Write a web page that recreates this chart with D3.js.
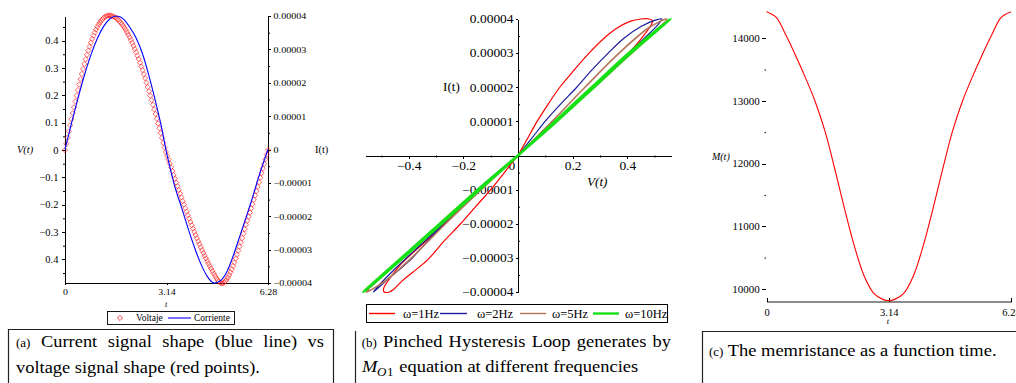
<!DOCTYPE html>
<html><head><meta charset="utf-8">
<script src="https://cdn.jsdelivr.net/npm/d3@7"></script>
<style>
body{margin:0;background:#fff}svg{display:block}
svg text{font-family:"Liberation Serif","Tinos","Times New Roman","Nimbus Roman","FreeSerif","DejaVu Serif",serif;}
</style>
</head><body>
<svg id="c" width="1016" height="383"></svg>
<script>
// ================= DATA =================
// ---- Panel (a): voltage markers (sampled every voltStep in t) and current line
const voltStep = 0.04;
const voltageV = [
0, 0.0227, 0.0454, 0.0680, 0.0904, 0.1126, 0.1347, 0.1564, 0.1777, 0.1987,
0.2193, 0.2394, 0.2590, 0.2781, 0.2965, 0.3144, 0.3315, 0.3479, 0.3636, 0.3785,
0.3925, 0.4059, 0.4183, 0.4298, 0.4404, 0.4501, 0.4588, 0.4665, 0.4732, 0.4789,
0.4836, 0.4873, 0.4899, 0.4915, 0.4920,
0.4917, 0.4907, 0.4891, 0.4869, 0.4840, 0.4805, 0.4764, 0.4716, 0.4662, 0.4603,
0.4537, 0.4465, 0.4388, 0.4304, 0.4216, 0.4122, 0.4022, 0.3917, 0.3808, 0.3693,
0.3574, 0.3450, 0.3322, 0.3190, 0.3054, 0.2915, 0.2771, 0.2625, 0.2460, 0.2304,
0.2146, 0.1985, 0.1821, 0.1655, 0.1486, 0.1316, 0.1144, 0.0971, 0.0796, 0.0620,
0.0443, 0.0266, 0.0089,
-0.0071, -0.0212, -0.0352, -0.0493, -0.0633, -0.0773, -0.0912, -0.1051, -0.1189, -0.1326,
-0.1462, -0.1597, -0.1731, -0.1864, -0.1996, -0.2126, -0.2255, -0.2382, -0.2508, -0.2632,
-0.2754, -0.2874, -0.2993, -0.3109, -0.3223, -0.3336, -0.3446, -0.3554, -0.3660, -0.3763,
-0.3864, -0.3963, -0.4059, -0.4153, -0.4245, -0.4333, -0.4425, -0.4515, -0.4600, -0.4680,
-0.4750, -0.4810, -0.4855,
-0.4880, -0.4875, -0.4850, -0.4800, -0.4740, -0.4660, -0.4570, -0.4470, -0.4360, -0.4240,
-0.4110, -0.3970, -0.3830, -0.3680, -0.3530, -0.3380, -0.3220, -0.3060, -0.2895, -0.2733,
-0.2588, -0.2440, -0.2289, -0.2137, -0.1981, -0.1824, -0.1665, -0.1503, -0.1340, -0.1176,
-0.1010, -0.0844, -0.0676, -0.0508, -0.0339, -0.0170, 0
];
const currentT = [0,0.2,0.4,0.6,0.8,1.0,1.2,1.4,1.6,1.8,2.0,2.2,2.4,2.6,2.8,3.0,3.12,
  3.2,3.4,3.6,3.8,4.0,4.2,4.4,4.62,4.8,5.0,5.2,5.4,5.6,5.8,6.0,6.28];
const currentI = [0,0.78e-5,1.532e-5,2.224e-5,2.828e-5,3.324e-5,3.696e-5,3.924e-5,4.0e-5,
  3.916e-5,3.672e-5,3.34e-5,2.86e-5,2.2e-5,1.44e-5,0.6e-5,0,
  -0.34e-5,-1.12e-5,-1.72e-5,-2.34e-5,-2.92e-5,-3.42e-5,-3.8e-5,-4.0e-5,
  -3.94e-5,-3.68e-5,-3.2e-5,-2.62e-5,-2.04e-5,-1.44e-5,-0.8e-5,0];
const aLeftTicks  = [0.4,0.3,0.2,0.1,0,-0.1,-0.2,-0.3,-0.4];
const aLeftLabels = ["0.4","0.3","0.2","0.1","0","\u22120.1","\u22120.2","\u22120.3","0.4"];
const aLeftMinor  = [0.45,0.35,0.25,0.15,0.05,-0.05,-0.15,-0.25,-0.35,-0.45];
const aRightTicks  = [4e-5,3e-5,2e-5,1e-5,0,-1e-5,-2e-5,-3e-5,-4e-5];
const aRightLabels = ["0.00004","0.00003","0.00002","0.00001","0","\u22120.00001","\u22120.00002","\u22120.00003","\u22120.00004"];
const aRightMinor  = [3.5e-5,2.5e-5,1.5e-5,0.5e-5,-0.5e-5,-1.5e-5,-2.5e-5,-3.5e-5];
const aXTicks  = [0,3.14,6.28];
const aXLabels = ["0","3.14","6.28"];
const aLegend  = ["Voltaje","Corriente"];

// ---- Panel (b): pinched hysteresis loops (V, I) in drawing order
const loopNames  = ["\u03c9=1Hz","\u03c9=2Hz","\u03c9=5Hz","\u03c9=10Hz"];
const loop1V = [0,0.035,0.07,0.11,0.153,0.205,0.26,0.31,0.36,0.41,0.45,0.48,0.493,0.488,0.47,0.43,0.35,0.25,0.15,0.07,0,
  -0.05,-0.10,-0.155,-0.21,-0.27,-0.33,-0.385,-0.425,-0.455,-0.47,-0.49,-0.492,-0.478,-0.43,-0.35,-0.25,-0.15,-0.07,0];
const loop1I = [0,0.5e-5,1.0e-5,1.5e-5,2.0e-5,2.5e-5,3.0e-5,3.4e-5,3.72e-5,3.93e-5,4.0e-5,4.0e-5,3.95e-5,3.84e-5,3.62e-5,3.22e-5,2.58e-5,1.84e-5,1.1e-5,0.52e-5,0,
  -0.5e-5,-1.0e-5,-1.5e-5,-2.0e-5,-2.5e-5,-3.05e-5,-3.42e-5,-3.68e-5,-3.92e-5,-4.0e-5,-4.0e-5,-3.9e-5,-3.7e-5,-3.2e-5,-2.6e-5,-1.86e-5,-1.1e-5,-0.52e-5,0];
const loop2V = [0,0.05,0.099,0.155,0.215,0.27,0.33,0.39,0.45,0.5,0.527,0.515,0.45,0.35,0.25,0.15,0.07,0,
  -0.075,-0.151,-0.21,-0.273,-0.33,-0.389,-0.44,-0.48,-0.529,-0.515,-0.45,-0.35,-0.25,-0.15,-0.07,0];
const loop2I = [0,0.5e-5,1.0e-5,1.5e-5,2.0e-5,2.5e-5,3.0e-5,3.45e-5,3.78e-5,3.96e-5,4.0e-5,3.86e-5,3.34e-5,2.58e-5,1.83e-5,1.09e-5,0.51e-5,0,
  -0.5e-5,-1.02e-5,-1.5e-5,-2.0e-5,-2.5e-5,-3.02e-5,-3.38e-5,-3.65e-5,-4.0e-5,-3.86e-5,-3.32e-5,-2.57e-5,-1.82e-5,-1.08e-5,-0.5e-5,0];
const loop3V = [0,0.125,0.245,0.37,0.48,0.545,0.50,0.40,0.28,0.14,0,-0.135,-0.265,-0.39,-0.49,-0.556,-0.51,-0.41,-0.29,-0.145,0];
const loop3I = [0,1.0e-5,2.0e-5,3.0e-5,3.75e-5,4.0e-5,3.62e-5,2.88e-5,2.0e-5,1.0e-5,0,-1.0e-5,-2.0e-5,-3.0e-5,-3.7e-5,-4.0e-5,-3.64e-5,-2.92e-5,-2.05e-5,-1.02e-5,0];
const loop4V = [0,0.135,0.27,0.405,0.558,0.41,0.275,0.14,0,-0.14,-0.28,-0.42,-0.566,-0.425,-0.285,-0.145,0];
const loop4I = [0,1.0e-5,2.0e-5,3.0e-5,4.0e-5,2.98e-5,1.98e-5,0.99e-5,0,-1.0e-5,-2.0e-5,-3.0e-5,-4.0e-5,-2.99e-5,-1.99e-5,-0.99e-5,0];
const bXTicks  = [-0.4,-0.2,0,0.2,0.4];
const bXLabels = ["\u22120.4","\u22120.2","0","0.2","0.4"];
const bXMinor  = [-0.5,-0.3,-0.1,0.1,0.3,0.5];
const bYTicks  = [4e-5,3e-5,2e-5,1e-5,-1e-5,-2e-5,-3e-5,-4e-5];
const bYLabels = ["0.00004","0.00003","0.00002","0.00001","\u22120.00001","\u22120.00002","\u22120.00003","\u22120.00004"];
const bYMinor  = [3.5e-5,2.5e-5,1.5e-5,0.5e-5,-0.5e-5,-1.5e-5,-2.5e-5,-3.5e-5];

// ---- Panel (c): memristance M(t)
const memT = [0,0.25,0.5,0.75,1.0,1.25,1.5,1.75,2.0,2.25,2.5,2.75,3.0,3.14,
  3.28,3.53,3.78,4.03,4.28,4.53,4.78,5.03,5.28,5.53,5.78,6.03,6.28];
const memM = [14420,14330,14045,13720,13370,12990,12520,11925,11290,10700,10220,9935,9830,9815,
  9830,9935,10220,10700,11290,11925,12520,12990,13370,13720,14045,14330,14420];
const cYTicks  = [14000,13000,12000,11000,10000];
const cYLabels = ["14000","13000","12000","11000","10000"];
const cYMinor  = [13500,12500,11500,10500];
const cXTicks  = [0,3.14,6.28];
const cXLabels = ["0","3.14","6.28"];

// ---- Captions
const capA1 = ["(a)","Current","signal","shape","(blue","line)","vs"];
const capA2 = "voltage signal shape (red points).";
const capB1 = ["(b)","Pinched","Hysteresis","Loop","generates","by"];
const capB2 = "equation at different frequencies";
const capC  = "The memristance as a function time.";

// ================= DRAWING =================
const SERIF = "Liberation Serif, Tinos, Times New Roman, Nimbus Roman, FreeSerif, DejaVu Serif, serif";
const svg = d3.select("#c");
svg.append("rect").attr("width",1016).attr("height",383).attr("fill","#fff");

function txt(g, x, y, s, o={}) {
  return g.append("text")
    .attr("transform", `translate(${x},${y}) scale(${o.sx||1},1)`)
    .attr("font-size", o.size||10)
    .attr("text-anchor", o.anchor||"start")
    .attr("font-style", o.italic ? "italic" : null)
    .attr("fill", o.fill||"#000").text(s);
}
function styleAxis(g, size, sx) {
  g.attr("font-family", SERIF).attr("font-size", size);
  g.selectAll("text").attr("transform", `scale(${sx},1)`);
  g.selectAll("path,line").attr("shape-rendering","crispEdges");
}
function measure(s, size, italic) {
  const t = svg.append("text").attr("font-size",size)
    .attr("font-style", italic?"italic":null).text(s);
  const w = t.node().getComputedTextLength(); t.remove(); return w;
}

// ---------- Panel (a) ----------
const gA = svg.append("g");
const ax  = d3.scaleLinear().domain([0,6.28]).range([65,268]);
const ayV = d3.scaleLinear().domain([-0.49,0.49]).range([284,16]);
const ayI = d3.scaleLinear().domain([-4e-5,4e-5]).range([283,16]);

gA.append("g").attr("transform","translate(65,0)")
  .call(d3.axisLeft(ayV).tickValues(aLeftTicks).tickFormat((d,i)=>aLeftLabels[i]).tickSize(3).tickSizeOuter(0).tickPadding(3))
  .call(g=>styleAxis(g,9.5,1.1));
gA.append("g").attr("transform","translate(65,0)")
  .call(d3.axisLeft(ayV).tickValues(aLeftMinor).tickFormat("").tickSize(2).tickSizeOuter(0))
  .call(g=>g.select(".domain").remove());
gA.append("g").attr("transform","translate(268,0)")
  .call(d3.axisRight(ayI).tickValues(aRightTicks).tickFormat((d,i)=>aRightLabels[i]).tickSize(3).tickSizeOuter(0).tickPadding(2))
  .call(g=>styleAxis(g,9,1.12));
gA.append("g").attr("transform","translate(268,0)")
  .call(d3.axisRight(ayI).tickValues(aRightMinor).tickFormat("").tickSize(2).tickSizeOuter(0))
  .call(g=>g.select(".domain").remove());
gA.append("g").attr("transform","translate(0,283)")
  .call(d3.axisBottom(ax).tickValues(aXTicks).tickFormat((d,i)=>aXLabels[i]).tickSize(2).tickSizeOuter(0).tickPadding(4))
  .call(g=>styleAxis(g,9,1.1));

txt(gA, 17, 153, "V(t)", {size:9.5, italic:true, sx:1.1});
txt(gA, 315, 153, "I(t)", {size:9.5, sx:1.1});
txt(gA, 166, 307, "t", {size:8, italic:true, anchor:"middle"});

const diamond = d3.symbol().type(d3.symbolDiamond2 || d3.symbolDiamond).size(17);
gA.append("g").selectAll("path").data(voltageV).join("path")
  .attr("transform",(d,i)=>`translate(${ax(i*voltStep)},${ayV(d)})`)
  .attr("d", diamond).attr("fill","none").attr("stroke","#ff1a1a")
  .attr("stroke-width",0.85).attr("stroke-opacity",0.8);
gA.append("path").datum(currentT.map((t,i)=>[t,currentI[i]]))
  .attr("d", d3.line().x(d=>ax(d[0])).y(d=>ayI(d[1])).curve(d3.curveMonotoneX))
  .attr("fill","none").attr("stroke","#0000ff").attr("stroke-width",1.1);

// legend (a)
gA.append("rect").attr("x",107.5).attr("y",311.5).attr("width",127).attr("height",13)
  .attr("fill","#fff").attr("stroke","#000").attr("stroke-width",0.9);
gA.append("path").attr("transform","translate(120,318)").attr("d",diamond)
  .attr("fill","none").attr("stroke","#ff1a1a").attr("stroke-width",0.85);
txt(gA, 136, 321, aLegend[0], {size:9.5, sx:1.0});
gA.append("line").attr("x1",168).attr("x2",191).attr("y1",318).attr("y2",318).attr("stroke","#0000ff").attr("stroke-width",1.1);
txt(gA, 194, 321, aLegend[1], {size:9.5, sx:1.0});

// ---------- Panel (b) ----------
const gB = svg.append("g");
const bx = d3.scaleLinear().domain([-0.56,0.56]).range([365,671]);
const by = d3.scaleLinear().domain([-4e-5,4e-5]).range([292,19]);

const xAxB = gB.append("g").attr("transform",`translate(0,${by(0)})`)
  .call(d3.axisBottom(bx).tickValues(bXTicks).tickFormat((d,i)=>bXLabels[i]).tickSize(3).tickSizeOuter(0).tickPadding(3))
  .call(g=>styleAxis(g,12,1.12));
xAxB.selectAll(".tick").filter(d=>d===0).select("text").attr("x",-6);
xAxB.selectAll(".tick").filter(d=>d===0).select("line").remove();
gB.append("g").attr("transform",`translate(0,${by(0)})`)
  .call(d3.axisBottom(bx).tickValues(bXMinor).tickFormat("").tickSize(2).tickSizeOuter(0))
  .call(g=>g.select(".domain").remove());
gB.append("g").attr("transform",`translate(${bx(0)},0)`)
  .call(d3.axisLeft(by).tickValues(bYTicks).tickFormat((d,i)=>bYLabels[i]).tickSize(2).tickSizeOuter(0).tickPadding(2))
  .call(g=>styleAxis(g,12,1.12));
gB.append("g").attr("transform",`translate(${bx(0)},0)`)
  .call(d3.axisRight(by).tickValues(bYMinor).tickFormat("").tickSize(2).tickSizeOuter(0))
  .call(g=>g.select(".domain").remove());

txt(gB, 443, 91, "I(t)", {size:12, sx:1.1});
txt(gB, 587, 186, "V(t)", {size:12, italic:true, sx:1.1});

svg.append("defs").append("clipPath").attr("id","clipB").append("rect")
  .attr("x",355).attr("y",18).attr("width",320).attr("height",275);
const loops = [
  {V:loop1V, I:loop1I, color:"#ff0000", w:1.2},
  {V:loop2V, I:loop2I, color:"#1c1c9c", w:1.2},
  {V:loop3V, I:loop3I, color:"#b4745a", w:1.6},
  {V:loop4V, I:loop4I, color:"#14e014", w:2.6}
];
const gLoops = gB.append("g").attr("clip-path","url(#clipB)");
loops.forEach(L=>{
  gLoops.append("path").datum(L.V.map((v,i)=>[v,L.I[i]]))
    .attr("d", d3.line().x(d=>bx(d[0])).y(d=>by(d[1])).curve(d3.curveCatmullRom.alpha(0.5)))
    .attr("fill","none").attr("stroke",L.color).attr("stroke-width",L.w).attr("stroke-linejoin","round");
});
// legend (b)
gB.append("rect").attr("x",366.5).attr("y",304.5).attr("width",301).attr("height",18)
  .attr("fill","#fff").attr("stroke","#000").attr("stroke-width",1);
const legBLine = [[369,395],[440,467],[520,546],[593,619]];
const legBText = [403,477,552,625];
loops.forEach((L,i)=>{
  gB.append("line").attr("x1",legBLine[i][0]).attr("x2",legBLine[i][1]).attr("y1",313.5).attr("y2",313.5)
    .attr("stroke",L.color).attr("stroke-width",Math.max(1.4,L.w*0.9));
  txt(gB, legBText[i], 317.5, loopNames[i], {size:12.5, sx:1.0});
});

// ---------- Panel (c) ----------
const gC = svg.append("g");
const cx = d3.scaleLinear().domain([0,6.28]).range([766.5,1011]);
const cy = d3.scaleLinear().domain([9800,14425]).range([301.5,11.5]);
gC.append("g").attr("transform","translate(766,0)")
  .call(d3.axisLeft(cy).tickValues(cYTicks).tickFormat((d,i)=>cYLabels[i]).tickSize(4).tickSizeOuter(0).tickPadding(2))
  .call(g=>{g.select(".domain").remove(); styleAxis(g,10.5,1.05);});
gC.append("g").attr("transform","translate(766,0)")
  .call(d3.axisLeft(cy).tickValues(cYMinor).tickFormat("").tickSize(1.5).tickSizeOuter(0))
  .call(g=>g.select(".domain").remove());
const cxAx = gC.append("g").attr("transform","translate(0,301.5)")
  .call(d3.axisBottom(cx).tickValues(cXTicks).tickFormat((d,i)=>cXLabels[i]).tickSize(-4).tickSizeOuter(0).tickPadding(7))
  .call(g=>styleAxis(g,10,1.05));
cxAx.select(".domain").attr("stroke","#8c8c8c").attr("stroke-width",2);
txt(gC, 888, 324, "t", {size:8.5, italic:true, anchor:"middle"});
txt(gC, 712, 160, "M(t)", {size:9.5, italic:true, sx:1.05});
gC.append("path").datum(memT.map((t,i)=>[t,memM[i]]))
  .attr("d", d3.line().x(d=>cx(d[0])).y(d=>cy(d[1])).curve(d3.curveCatmullRom.alpha(0.5)))
  .attr("fill","none").attr("stroke","#ff0000").attr("stroke-width",1.1);

// ---------- Captions ----------
const gCap = svg.append("g");
gCap.append("path").attr("d","M8.5,383V329.5H333.5V383").attr("fill","none").attr("stroke","#222").attr("stroke-width",1.2);
gCap.append("path").attr("d","M355.5,383V331").attr("fill","none").attr("stroke","#222").attr("stroke-width",1.2);
gCap.append("path").attr("d","M702.5,383V331.5H1016").attr("fill","none").attr("stroke","#222").attr("stroke-width",1.2);

const CAP = 17, SMALL = 12;
function justified(x0, x1, baseline, words, sx) {
  const grp = gCap.append("g").attr("transform",`translate(${x0},${baseline}) scale(${sx},1)`);
  const nodes = words.map((w,i)=>grp.append("text").attr("font-size", i===0 ? SMALL : CAP).text(w));
  const widths = nodes.map(n=>n.node().getComputedTextLength());
  const total = widths.reduce((a,b)=>a+b,0);
  const gap = ((x1-x0)/sx - total)/(words.length-1);
  let x = 0;
  nodes.forEach((n,i)=>{ n.attr("x",x); x += widths[i]+gap; });
}
const sxA = 244 / measure(capA2, CAP);
justified(16, 324, 347, capA1, sxA);
txt(gCap, 16, 373, capA2, {size:CAP, sx:sxA});

const sxB = 239 / measure(capB2, CAP);
justified(361.7, 671, 347, capB1, sxB);
txt(gCap, 362, 372, "M", {size:CAP, italic:true, sx:sxB});
txt(gCap, 377, 376, "O", {size:SMALL, italic:true, sx:sxB});
txt(gCap, 387, 376, "1", {size:SMALL, sx:sxB});
txt(gCap, 399.3, 372, capB2, {size:CAP, sx:sxB});

const sxC = 269 / measure(capC, CAP);
txt(gCap, 709, 356, "(c)", {size:SMALL, sx:sxC});
txt(gCap, 727.7, 356, capC, {size:CAP, sx:sxC});
</script>
</body></html>
